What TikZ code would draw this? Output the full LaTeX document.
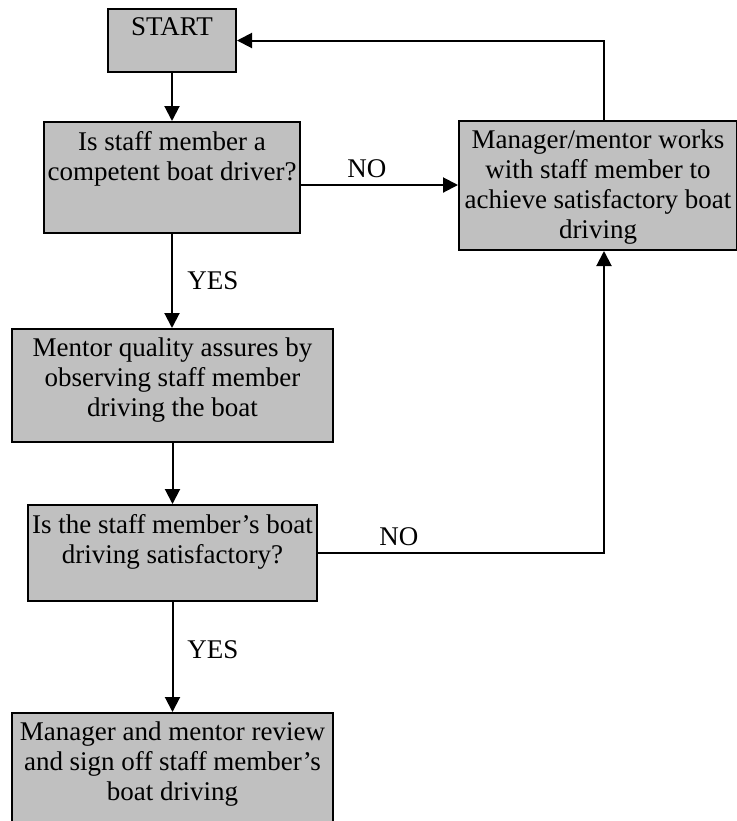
\documentclass[tikz,border=0pt]{standalone}
\usepackage{fontspec}
\setmainfont{Liberation Serif}
\usetikzlibrary{arrows.meta}
\definecolor{boxgray}{RGB}{192,192,192}
\newcommand{\boxtext}[3]{\parbox[t][#1][t]{#2}{\centering\vspace*{4.5pt}#3}}

\begin{document}
\begin{tikzpicture}[x=0.5pt, y=-0.5pt, font=\fontsize{13.5}{15}\selectfont,
  stepbox/.style={draw, fill=boxgray, line width=1pt, inner sep=0pt, anchor=north west},
  flow/.style={line width=1pt, -{Triangle[length=7.5pt, width=7.5pt]}},
  answer/.style={inner sep=0pt, anchor=base west}]
  \useasboundingbox (0,0) rectangle (737,821);
  \node[stepbox] at (107,8) (start) {\boxtext{31.5pt}{64pt}{START}};
  \node[stepbox] at (43,121) (driver) {\boxtext{55.5pt}{128pt}{Is staff member a\\competent boat driver?}};
  \node[stepbox] at (458,120) (coach) {\boxtext{64.5pt}{139pt}{Manager/mentor works\\with staff member to\\achieve satisfactory boat\\driving}};
  \node[stepbox] at (11,328) (observe) {\boxtext{56.5pt}{160.5pt}{Mentor quality assures by\\observing staff member\\driving the boat}};
  \node[stepbox] at (27,504) (check) {\boxtext{48pt}{144.5pt}{Is the staff member’s boat\\driving satisfactory?}};
  \node[stepbox] at (11,712) (signoff) {\boxtext{60pt}{160.5pt}{Manager and mentor review\\and sign off staff member’s\\boat driving}};
  % Labels
  \node[answer] at (187,289) (yes1) {YES};
  \node[answer] at (187,658) (yes2) {YES};
  \node[answer] at (347,177) (no1) {NO};
  \node[answer] at (379,545) (no2) {NO};
  % Lines
  \draw[flow] (start.south) -- (driver.north);
  \draw[flow] (driver.south) -- (driver.south |- observe.north);
  \draw[flow] (observe.south) -- (observe.south |- check.north);
  \draw[flow] (check.south) -- (check.south |- signoff.north);
  \draw[flow] ([yshift=-3.75pt]driver.east) -- ([yshift=-3.75pt]driver.east -| coach.west);
  \draw[flow] ([xshift=3pt]coach.north) |- (start.east);
  \draw[flow] (check.east) -| ([xshift=3pt]coach.south);
\end{tikzpicture}
\end{document}
